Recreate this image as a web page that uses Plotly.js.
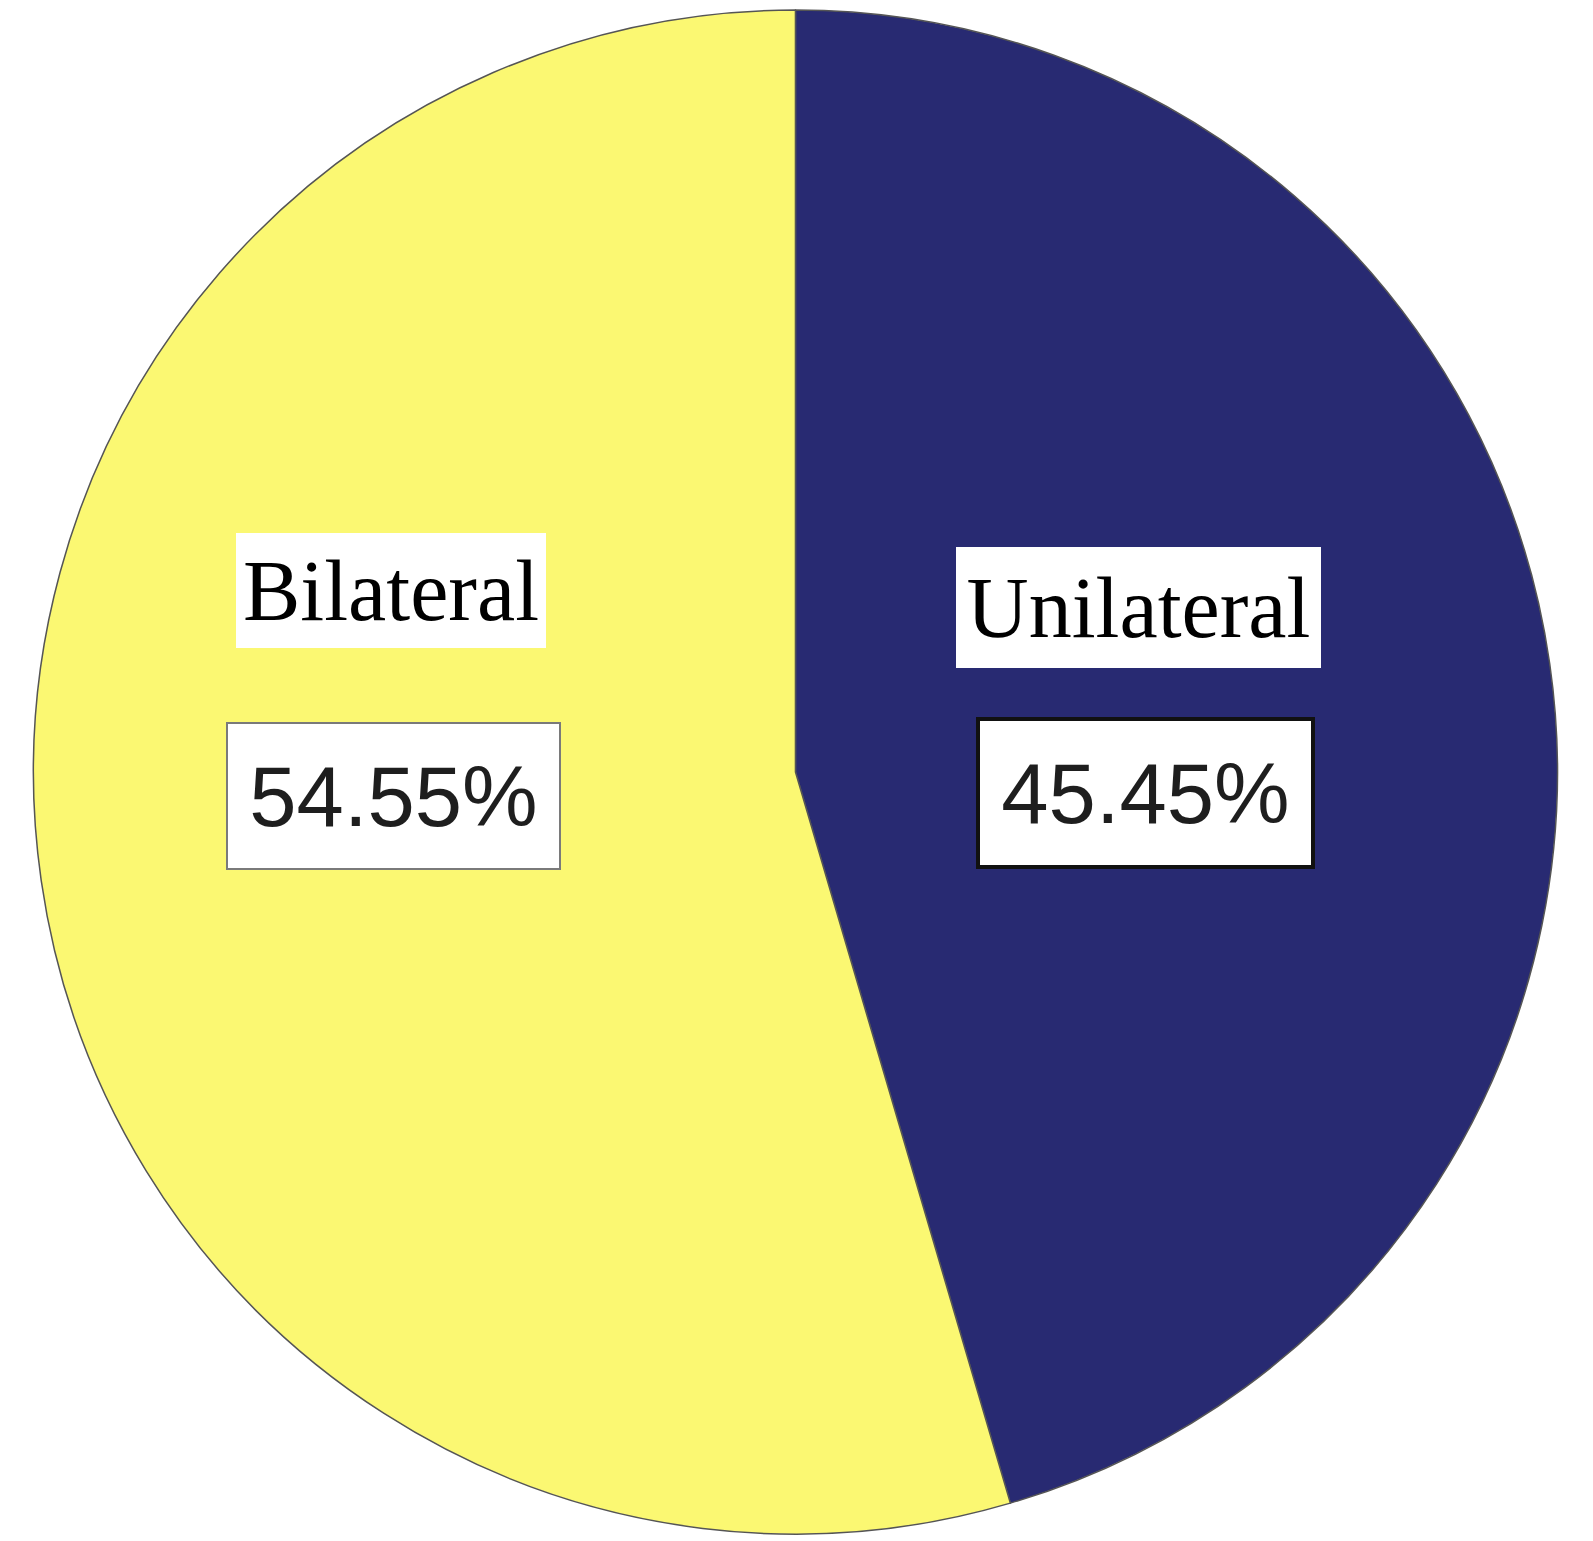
<!DOCTYPE html>
<html>
<head>
<meta charset="utf-8">
<script src="https://cdn.plot.ly/plotly-3.0.1.min.js"></script>
<style>
  html, body { margin: 0; padding: 0; background: #ffffff; }
  #chart { width: 1593px; height: 1541px; }
</style>
</head>
<body>
<div id="chart"></div>
<script>
// data
const categories = ["Unilateral", "Bilateral"];
const percents = [45.45, 54.55];
const sliceColors = ["#282a72", "#fbf872"];

const W = 1593, H = 1541;

// label boxes (centre in px, box size)
const nameBoxes = [
    { cx: 1138, cy: 607, w: 365, h: 121 },
    { cx: 391, cy: 590, w: 310, h: 115 }
];
const pctBoxes = [
    { cx: 1145, cy: 793, w: 339, h: 152, border: "#111111", bw: 4 },
    { cx: 393, cy: 796, w: 335, h: 148, border: "#7a7a7a", bw: 2 }
];

const trace = {
    type: "pie",
    labels: categories,
    values: percents,
    sort: false,
    direction: "clockwise",
    rotation: 0,
    textinfo: "none",
    hoverinfo: "label+percent",
    marker: { colors: sliceColors, line: { color: "#555555", width: 1.5 } },
    domain: { x: [0.021, 0.9777], y: [0.0045, 0.9935] },
    showlegend: false
};

const annotations = [];
categories.forEach((name, i) => {
    const nb = nameBoxes[i];
    annotations.push({
        xref: "paper", yref: "paper",
        x: nb.cx / W, y: 1 - nb.cy / H,
        xanchor: "center", yanchor: "middle",
        text: name,
        showarrow: false,
        bgcolor: "#ffffff",
        borderwidth: 0, borderpad: 0,
        width: nb.w, height: nb.h,
        font: { family: "Liberation Serif, Times New Roman, serif", size: 86, color: "#000000" }
    });
    const pb = pctBoxes[i];
    annotations.push({
        xref: "paper", yref: "paper",
        x: pb.cx / W, y: 1 - pb.cy / H,
        xanchor: "center", yanchor: "middle",
        text: percents[i].toFixed(2) + "%",
        showarrow: false,
        bgcolor: "#ffffff",
        bordercolor: pb.border, borderwidth: pb.bw, borderpad: 0,
        width: pb.w - 2 * pb.bw, height: pb.h - 2 * pb.bw,
        font: { family: "Liberation Sans Narrow, Liberation Sans, Arial, sans-serif", size: 85, color: "#1e1e1e" }
    });
});

const layout = {
    width: W,
    height: H,
    margin: { l: 0, r: 0, t: 0, b: 0 },
    paper_bgcolor: "#ffffff",
    annotations: annotations
};

Plotly.newPlot("chart", [trace], layout, { displayModeBar: false, staticPlot: true });
</script>
</body>
</html>
